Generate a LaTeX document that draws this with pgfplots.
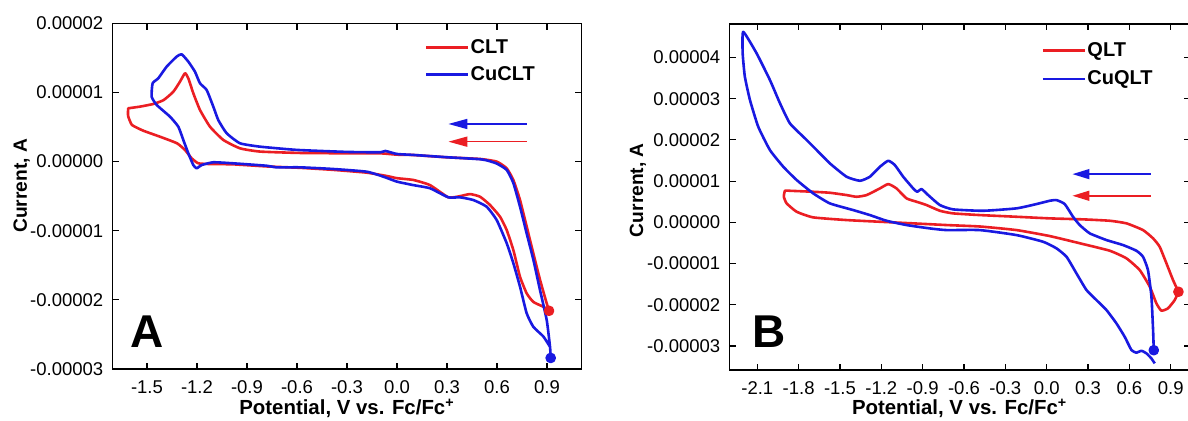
\documentclass[border=0pt]{standalone}
\usepackage{fontspec}
\setmainfont{Liberation Sans}
\usepackage{pgfplots}
\pgfplotsset{compat=1.18}
\usetikzlibrary{arrows.meta}
\definecolor{cvred}{RGB}{235,30,35}
\definecolor{cvblue}{RGB}{25,25,225}
\pgfplotsset{cvstyle/.style={
  scale only axis,
  axis line style={line width=0.7pt, black},
  tick align=inside, tick pos=both, xticklabel pos=lower, yticklabel pos=left,
  major tick length=3.2pt, tick style={line width=0.6pt, black},
  tick label style={font=\fontsize{9.25}{11}\selectfont},
  xticklabel style={yshift=-2.5pt},
  yticklabel style={xshift=-1pt},
  xlabel style={font=\fontsize{10.2}{12}\selectfont\bfseries},
  ylabel style={font=\fontsize{9.6}{11}\selectfont\bfseries},
  legend cell align=left,
  legend image code/.code={\draw[#1, line width=1.3pt] (0pt,0pt) -- (20.8pt,0pt);},
  every axis plot/.append style={line width=1.3pt, line join=round},
}}
\begin{document}
\begin{tikzpicture}
\path[use as bounding box] (0,0) rectangle (594pt,210pt);
% ---------------- Panel A ----------------
\begin{axis}[cvstyle,
  at={(56.15pt,25.5pt)}, anchor=south west,
  width=234.7pt, height=172.85pt,
  xmin=-1.708, xmax=1.108, ymin=-3, ymax=2,
  xtick={-1.5,-1.2,-0.9,-0.6,-0.3,0,0.3,0.6,0.9},
  xticklabels={-1.5,-1.2,-0.9,-0.6,-0.3,0.0,0.3,0.6,0.9},
  ytick={-3,-2,-1,0,1,2},
  yticklabels={-0.00003,-0.00002,-0.00001,0.00000,0.00001,0.00002},
  xlabel={Potential, V vs. Fc/Fc\textsuperscript{+}},
  ylabel={Current, A},
  xlabel style={at={(axis description cs:0.5,-0.133)}, anchor=base},
  ylabel style={at={(axis description cs:-0.182,0.53)}, anchor=base},
  legend style={draw=none, fill=none, at={(axis description cs:0.666,0.959)}, anchor=north west,
    inner sep=0pt, outer sep=0pt, row sep=3.5pt, font=\fontsize{10}{12}\selectfont\bfseries,
    nodes={inner sep=0.8pt}},
]
\addplot[cvred, smooth, tension=0.3] coordinates {
(0.912,-2.158) (0.898,-2.05) (0.858,-1.71) (0.818,-1.33) (0.778,-0.94) (0.738,-0.556)
(0.698,-0.266) (0.658,-0.097) (0.598,0.0) (0.498,0.038) (0.298,0.062) (0.098,0.095)
(0.0,0.10) (-0.102,0.12) (-0.3,0.12) (-0.582,0.125) (-0.822,0.145) (-0.942,0.192)
(-1.042,0.313) (-1.122,0.505) (-1.182,0.747) (-1.222,0.988) (-1.252,1.205) (-1.272,1.278)
(-1.302,1.156) (-1.342,1.01) (-1.40,0.89) (-1.462,0.833) (-1.542,0.795) (-1.60,0.775)
(-1.612,0.771) (-1.614,0.70) (-1.612,0.650) (-1.59,0.53) (-1.522,0.447) (-1.422,0.36)
(-1.32,0.265) (-1.272,0.168) (-1.232,0.048) (-1.192,-0.025) (-1.122,-0.035) (-0.982,-0.04)
(-0.782,-0.07) (-0.582,-0.09) (-0.382,-0.12) (-0.182,-0.16) (-0.062,-0.208) (0.0,-0.24)
(0.098,-0.266) (0.198,-0.34) (0.308,-0.517) (0.378,-0.5) (0.438,-0.47) (0.498,-0.508)
(0.558,-0.628) (0.618,-0.797) (0.658,-0.99) (0.698,-1.28) (0.738,-1.666) (0.778,-1.906)
(0.818,-2.03) (0.878,-2.1) (0.912,-2.158)
};
\addlegendentry{CLT}
\addplot[cvblue, smooth, tension=0.3] coordinates {
(0.922,-2.84) (0.918,-2.68) (0.898,-2.29) (0.858,-1.86) (0.818,-1.42) (0.778,-1.04)
(0.738,-0.653) (0.698,-0.31) (0.658,-0.12) (0.6,-0.03) (0.55,0.01) (0.5,0.034)
(0.3,0.063) (0.1,0.096) (0.0,0.11) (-0.07,0.154) (-0.1,0.135) (-0.3,0.14) (-0.6,0.169)
(-0.822,0.216) (-0.942,0.265) (-1.022,0.41) (-1.072,0.6) (-1.102,0.795) (-1.142,1.036)
(-1.182,1.133) (-1.212,1.30) (-1.252,1.446) (-1.292,1.552) (-1.322,1.518) (-1.382,1.373)
(-1.432,1.205) (-1.466,1.133) (-1.472,0.94) (-1.442,0.82) (-1.362,0.65) (-1.312,0.505)
(-1.282,0.313) (-1.252,0.12) (-1.222,-0.05) (-1.202,-0.097) (-1.172,-0.05) (-1.102,-0.01)
(-0.982,-0.025) (-0.782,-0.06) (-0.722,-0.083) (-0.582,-0.083) (-0.382,-0.107)
(-0.182,-0.146) (-0.082,-0.218) (0.0,-0.29) (0.098,-0.34) (0.198,-0.386) (0.308,-0.517)
(0.378,-0.517) (0.458,-0.556) (0.538,-0.653) (0.598,-0.845) (0.658,-1.18) (0.698,-1.47)
(0.738,-1.81) (0.778,-2.195) (0.818,-2.39) (0.878,-2.53) (0.918,-2.68)
};
\addlegendentry{CuCLT}
\addplot[only marks, mark=*, mark size=2pt, cvred, forget plot] coordinates {(0.912,-2.158)};
\addplot[only marks, mark=*, mark size=2pt, cvblue, forget plot] coordinates {(0.922,-2.84)};
\draw[cvblue, line width=0.8pt, -{Triangle[length=9.5pt,width=5pt]}] (axis cs:0.778,0.544) -- (axis cs:0.308,0.544);
\draw[cvred, line width=0.8pt, -{Triangle[length=9.5pt,width=5pt]}] (axis cs:0.778,0.288) -- (axis cs:0.308,0.288);
\node[anchor=base west, inner sep=0pt, font=\fontsize{23}{23}\selectfont\bfseries] at (axis description cs:0.038,0.061) {A};
\end{axis}
% ---------------- Panel B ----------------
\begin{axis}[cvstyle,
  at={(364.65pt,25pt)}, anchor=south west,
  width=230.35pt, height=173pt,
  xmin=-2.303, xmax=1.04, ymin=-3.58, ymax=4.81,
  xtick={-2.1,-1.8,-1.5,-1.2,-0.9,-0.6,-0.3,0,0.3,0.6,0.9},
  xticklabels={-2.1,-1.8,-1.5,-1.2,-0.9,-0.6,-0.3,0.0,0.3,0.6,0.9},
  ytick={-3,-2,-1,0,1,2,3,4},
  yticklabels={-0.00003,-0.00002,-0.00001,0.00000,0.00001,0.00002,0.00003,0.00004},
  xlabel={Potential, V vs. Fc/Fc\textsuperscript{+}},
  ylabel={Current, A},
  xlabel style={at={(axis description cs:0.5,-0.130)}, anchor=base},
  ylabel style={at={(axis description cs:-0.187,0.52)}, anchor=base},
  legend style={draw=none, fill=none, at={(axis description cs:0.678,0.952)}, anchor=north west,
    inner sep=0pt, outer sep=0pt, row sep=4pt, font=\fontsize{10}{12}\selectfont\bfseries,
    nodes={inner sep=0.8pt}},
]
\addplot[cvred, smooth, tension=0.3] coordinates {
(0.956,-1.683) (0.917,-1.40) (0.869,-0.994) (0.82,-0.592) (0.772,-0.388) (0.699,-0.187)
(0.579,-0.024) (0.458,0.039) (0.264,0.073) (0.022,0.097) (-0.219,0.136) (-0.485,0.177)
(-0.679,0.218) (-0.775,0.281) (-0.872,0.42) (-0.944,0.5) (-1.017,0.582) (-1.09,0.824)
(-1.15,0.929) (-1.21,0.824) (-1.307,0.662) (-1.38,0.621) (-1.452,0.662) (-1.573,0.718)
(-1.694,0.742) (-1.863,0.766) (-1.899,0.766) (-1.907,0.621) (-1.887,0.461) (-1.814,0.257)
(-1.694,0.121) (-1.452,0.056) (-1.21,0.015) (-0.969,-0.024) (-0.727,-0.065) (-0.485,-0.1)
(-0.219,-0.187) (0.022,-0.332) (0.264,-0.526) (0.458,-0.688) (0.579,-0.873) (0.675,-1.157)
(0.748,-1.56) (0.796,-1.964) (0.832,-2.14) (0.88,-2.085) (0.929,-1.884) (0.956,-1.683)
};
\addlegendentry{QLT}
\addplot[cvblue, smooth, tension=0.3] coordinates {
(0.777,-3.10) (0.772,-2.61) (0.76,-1.80) (0.735,-1.157) (0.699,-0.834) (0.651,-0.688)
(0.554,-0.55) (0.434,-0.429) (0.313,-0.267) (0.24,-0.065) (0.191,0.136) (0.131,0.444)
(0.071,0.54) (0.022,0.524) (-0.074,0.444) (-0.219,0.34) (-0.461,0.281) (-0.679,0.315)
(-0.775,0.42) (-0.86,0.662) (-0.908,0.807) (-0.94,0.742) (-0.969,0.824) (-1.041,1.106)
(-1.102,1.39) (-1.15,1.494) (-1.21,1.348) (-1.283,1.106) (-1.355,1.009) (-1.452,1.106)
(-1.573,1.43) (-1.669,1.753) (-1.754,2.037) (-1.863,2.40) (-1.935,2.886) (-2.008,3.45)
(-2.105,4.10) (-2.202,4.62) (-2.206,4.10) (-2.19,3.53) (-2.153,2.966) (-2.093,2.318)
(-2.008,1.753) (-1.911,1.348) (-1.814,1.026) (-1.694,0.703) (-1.573,0.46) (-1.404,0.298)
(-1.283,0.177) (-1.162,0.039) (-1.017,-0.065) (-0.848,-0.146) (-0.727,-0.187)
(-0.485,-0.187) (-0.219,-0.308) (-0.026,-0.47) (0.071,-0.63) (0.144,-0.834) (0.216,-1.237)
(0.289,-1.642) (0.361,-1.884) (0.434,-2.127) (0.506,-2.449) (0.566,-2.774) (0.615,-3.096)
(0.651,-3.16) (0.687,-3.113) (0.724,-3.177) (0.76,-3.30) (0.784,-3.42)
};
\addlegendentry{CuQLT}
\addplot[only marks, mark=*, mark size=2pt, cvred, forget plot] coordinates {(0.956,-1.683)};
\addplot[only marks, mark=*, mark size=2pt, cvblue, forget plot] coordinates {(0.777,-3.10)};
\draw[cvblue, line width=0.8pt, -{Triangle[length=8.5pt,width=5pt]}] (axis cs:0.755,1.17) -- (axis cs:0.187,1.17);
\draw[cvred, line width=0.8pt, -{Triangle[length=8.5pt,width=5pt]}] (axis cs:0.755,0.645) -- (axis cs:0.187,0.645);
\node[anchor=base west, inner sep=0pt, font=\fontsize{23}{23}\selectfont\bfseries] at (axis description cs:0.049,0.066) {B};
\end{axis}
\end{tikzpicture}
\end{document}
